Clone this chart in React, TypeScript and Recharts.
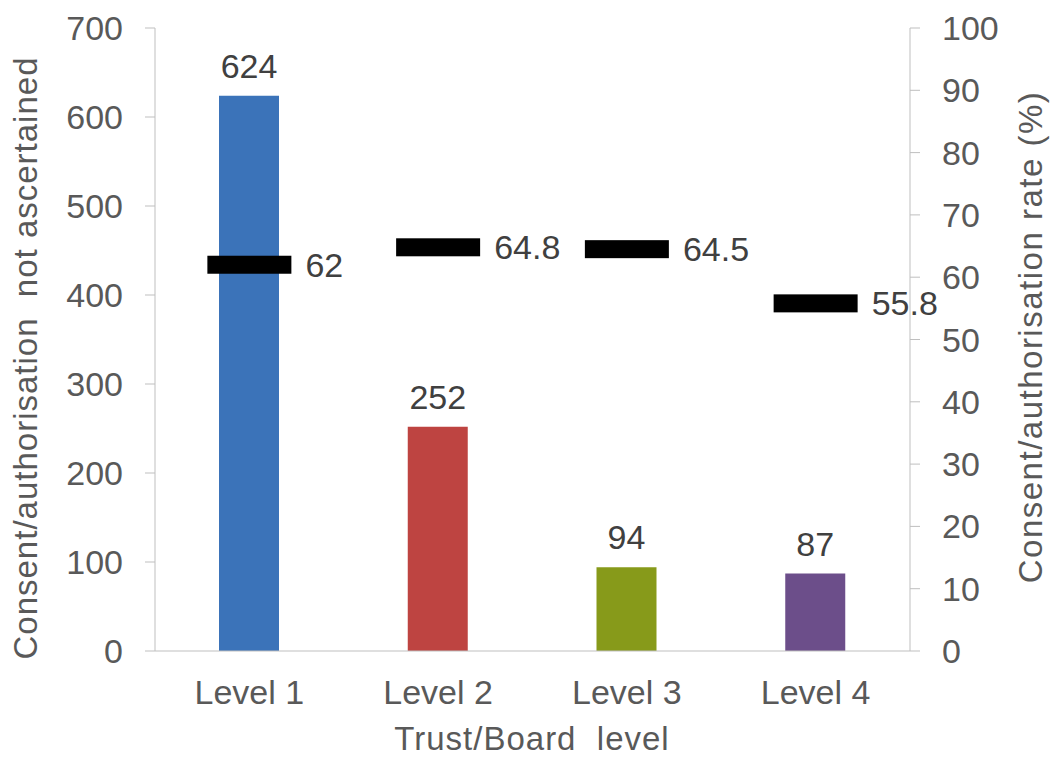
import React from 'react';
import { ComposedChart, Bar, Line, XAxis, YAxis, Cell, LabelList } from 'recharts';

const levels = ['Level 1', 'Level 2', 'Level 3', 'Level 4'];
const notAscertained = [624, 252, 94, 87];
const consentRate = [62, 64.8, 64.5, 55.8];
const barColors = ['#3B73B9', '#BE4441', '#879A1A', '#6C4E8A'];
const leftTicks = [0, 100, 200, 300, 400, 500, 600, 700];
const rightTicks = [0, 10, 20, 30, 40, 50, 60, 70, 80, 90, 100];

const data = levels.map((level, i) => ({
  level,
  count: notAscertained[i],
  rate: consentRate[i],
}));

const FONT = 'Liberation Sans, Arial, sans-serif';
const tickStyle = { fontSize: 34, fill: '#595959', fontFamily: FONT };
const axisGray = '#BFBFBF';

// black horizontal marker for the rate
const RateMarker = (props: any) => {
  const { cx, cy } = props;
  if (cx == null || cy == null) return null;
  return <rect x={cx - 42} y={cy - 9} width={84} height={18} fill="#000" />;
};

const RateLabel = (props: any) => {
  const { x, y, value } = props;
  return (
    <text x={x + 56} y={y} dy="0.35em" textAnchor="start" fontSize={34} fill="#404040" fontFamily={FONT}>
      {value}
    </text>
  );
};

const AxisTitle = ({ x, y, angle, text, spacing }: { x: number; y: number; angle: number; text: string; spacing: number }) => (
  <text
    x={x}
    y={y}
    dy="0.35em"
    textAnchor="middle"
    transform={angle ? `rotate(${angle}, ${x}, ${y})` : undefined}
    fontSize={33}
    letterSpacing={spacing}
    fill="#595959"
    fontFamily={FONT}
    style={{ whiteSpace: 'pre' }}
  >
    {text}
  </text>
);

const App: React.FC = () => {
  return (
    <div style={{ position: 'absolute', left: 0, top: 0, width: 1054, height: 758, background: '#fff' }}>
      <ComposedChart width={1054} height={758} data={data} margin={{ top: 28, right: 0, bottom: 0, left: 0 }}>
        <XAxis
          dataKey="level"
          stroke={axisGray}
          tickLine={false}
          tickSize={0}
          tickMargin={29}
          tick={tickStyle}
          height={107}
          label={{ content: () => <AxisTitle x={532} y={738} angle={0} spacing={1} text="Trust/Board  level" /> }}
        />
        <YAxis
          yAxisId="left"
          domain={[0, 700]}
          ticks={leftTicks}
          width={155}
          stroke={axisGray}
          tickSize={10}
          tickMargin={22}
          tick={tickStyle}
          interval={0}
          label={{
            content: () => (
              <AxisTitle x={25} y={358} angle={-90} spacing={1} text={'Consent/authorisation  not ascertained'} />
            ),
          }}
        />
        <YAxis
          yAxisId="right"
          orientation="right"
          domain={[0, 100]}
          ticks={rightTicks}
          width={144}
          stroke={axisGray}
          tickSize={10}
          tickMargin={22}
          tick={tickStyle}
          interval={0}
          label={{
            content: () => <AxisTitle x={1030} y={337} angle={-90} spacing={1.5} text="Consent/authorisation rate (%)" />,
          }}
        />
        <Bar yAxisId="left" dataKey="count" barSize={60} isAnimationActive={false}>
          {data.map((d, i) => (
            <Cell key={d.level} fill={barColors[i]} />
          ))}
          <LabelList dataKey="count" position="top" offset={18} style={{ fontSize: 34, fill: '#404040', fontFamily: FONT }} />
        </Bar>
        <Line
          yAxisId="right"
          dataKey="rate"
          stroke="none"
          dot={<RateMarker />}
          activeDot={false}
          isAnimationActive={false}
        >
          <LabelList dataKey="rate" content={<RateLabel />} />
        </Line>
      </ComposedChart>
    </div>
  );
};

export default App;
